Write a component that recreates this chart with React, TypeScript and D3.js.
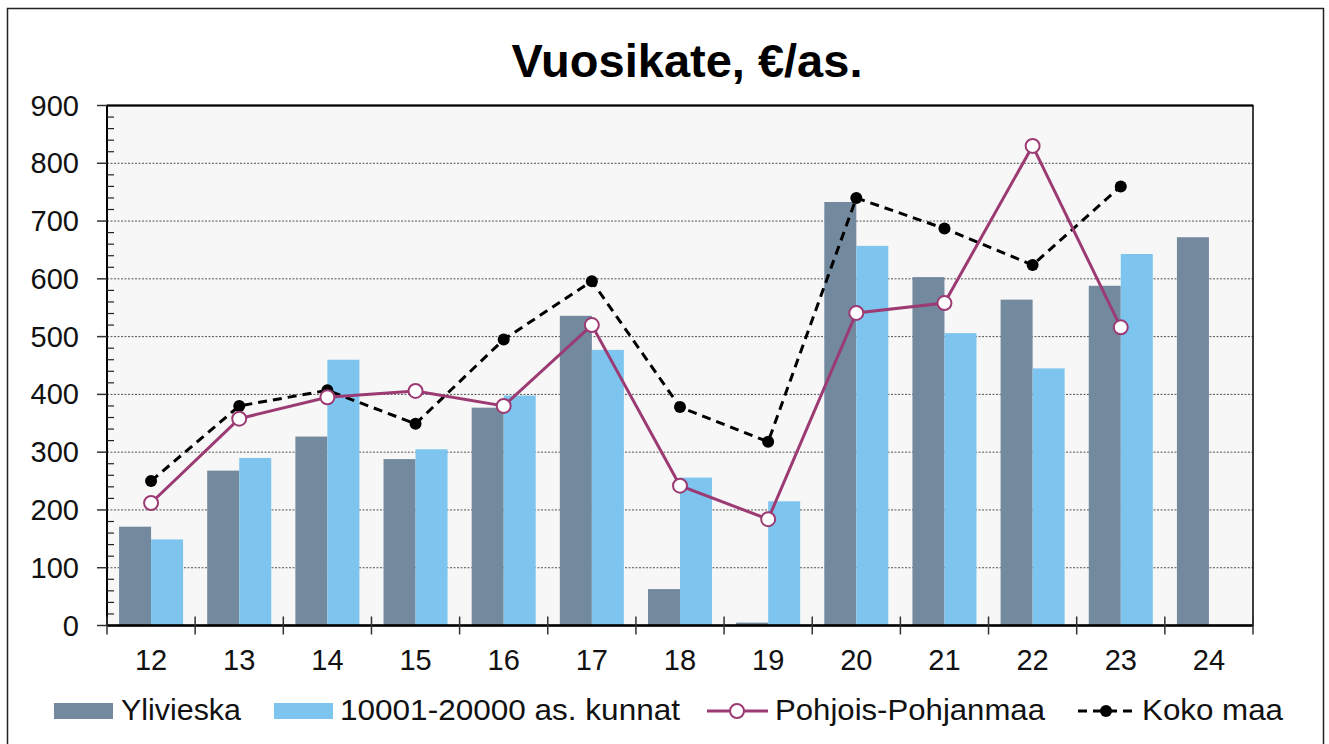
import React from 'react';
import * as d3 from 'd3';

// Chart data
const years = ['12', '13', '14', '15', '16', '17', '18', '19', '20', '21', '22', '23', '24'];
const ylivieska = [171, 268, 327, 288, 377, 536, 63, 5, 733, 603, 564, 588, 672];
const kunnat: (number | null)[] = [149, 290, 460, 305, 398, 477, 256, 215, 657, 506, 445, 643, null];
const pohjois: (number | null)[] = [212, 358, 395, 406, 380, 520, 242, 184, 541, 558, 830, 516, null];
const kokoMaa: (number | null)[] = [250, 380, 407, 349, 495, 596, 378, 318, 740, 687, 624, 760, null];
const yTicks = [0, 100, 200, 300, 400, 500, 600, 700, 800, 900];

const W = 1329;
const H = 744;
const FONT = 'Liberation Sans, Arial, sans-serif';
const DARK = '#72899e';
const LIGHT = '#7dc5ee';
const PURPLE = '#9c3b73';

export default function App() {
  const left = 107, right = 1253, top = 105.5, bottom = 625.5;

  const x = d3.scaleBand<string>().domain(years).range([left, right]).padding(0);
  const inner = d3.scaleBand<string>().domain(['a', 'b']).range([0, x.bandwidth()])
    .paddingInner(0).paddingOuter(0.377);
  const y = d3.scaleLinear().domain([0, 900]).range([bottom, top]);
  const minor = d3.range(0, 900, 20).filter(v => v % 100 !== 0);

  const cx = (i: number) => (x(years[i]) as number) + x.bandwidth() / 2;
  const line = d3.line<number | null>()
    .defined(d => d != null)
    .x((d, i) => cx(i))
    .y(d => y(d as number));

  return (
    <svg width={W} height={H} style={{ position: 'absolute', left: 0, top: 0, display: 'block' }}
      fontFamily={FONT}>
      <rect x={0} y={0} width={W} height={H} fill="#fff" />
      <rect x={7.5} y={8.5} width={1316} height={760} fill="none" stroke="#222" strokeWidth={1.5} />

      <text x={687} y={77} textAnchor="middle" fontSize={47} fontWeight="bold" fill="#000">
        Vuosikate, €/as.
      </text>

      {/* plot area */}
      <rect x={left} y={top} width={right - left} height={bottom - top} fill="#f7f7f7" />
      {yTicks.filter(v => v > 0 && v < 900).map(v => (
        <line key={'g' + v} x1={left} x2={right} y1={y(v)} y2={y(v)}
          stroke="#555" strokeWidth={1} strokeDasharray="2,1.5" />
      ))}

      {/* bars */}
      {years.map((yr, i) => (
        <g key={'b' + yr} transform={`translate(${x(yr)},0)`}>
          <rect x={inner('a')} width={inner.bandwidth()} y={y(ylivieska[i])}
            height={bottom - y(ylivieska[i])} fill={DARK} />
          {kunnat[i] != null && (
            <rect x={inner('b')} width={inner.bandwidth()} y={y(kunnat[i] as number)}
              height={bottom - y(kunnat[i] as number)} fill={LIGHT} />
          )}
        </g>
      ))}

      {/* frame */}
      <rect x={left} y={top} width={right - left} height={bottom - top} fill="none" stroke="#000" strokeWidth={1.5} />
      <line x1={left} x2={right} y1={bottom} y2={bottom} stroke="#000" strokeWidth={2.5} />
      <line x1={left} x2={left} y1={top} y2={bottom} stroke="#000" strokeWidth={2} />
      <line x1={left} x2={right} y1={top} y2={top} stroke="#000" strokeWidth={2} />

      {/* y ticks */}
      {yTicks.map(v => (
        <g key={'t' + v}>
          <line x1={left - 10} x2={left} y1={y(v)} y2={y(v)} stroke="#333" strokeWidth={1.5} />
          <text x={79} y={y(v)} textAnchor="end" dominantBaseline="central" fontSize={29} fill="#111">{v}</text>
        </g>
      ))}
      {minor.map(v => (
        <line key={'m' + v} x1={left} x2={left + 7} y1={y(v)} y2={y(v)} stroke="#222" strokeWidth={1.2} />
      ))}

      {/* x ticks */}
      {years.map((yr, i) => (
        <g key={'x' + yr}>
          <line x1={x(yr) as number} x2={x(yr) as number} y1={bottom - 9} y2={bottom + 9} stroke="#333" strokeWidth={1.5} />
          <text x={cx(i)} y={670} textAnchor="middle" fontSize={29} fill="#111">{yr}</text>
        </g>
      ))}
      <line x1={right} x2={right} y1={bottom - 9} y2={bottom + 9} stroke="#333" strokeWidth={1.5} />

      {/* lines */}
      <path d={line(kokoMaa) || ''} fill="none" stroke="#000" strokeWidth={3} strokeDasharray="9,6" />
      {kokoMaa.map((v, i) => v != null && (
        <circle key={'k' + i} cx={cx(i)} cy={y(v)} r={6} fill="#000" />
      ))}
      <path d={line(pohjois) || ''} fill="none" stroke={PURPLE} strokeWidth={3} />
      {pohjois.map((v, i) => v != null && (
        <circle key={'p' + i} cx={cx(i)} cy={y(v)} r={7} fill="#fff" stroke={PURPLE} strokeWidth={2} />
      ))}

      {/* legend */}
      <g fontSize={29} fill="#111">
        <rect x={54} y={703} width={59} height={16} fill={DARK} />
        <text x={121} y={720} textLength={120} lengthAdjust="spacingAndGlyphs">Ylivieska</text>
        <rect x={274} y={703} width={59} height={16} fill={LIGHT} />
        <text x={340} y={720} textLength={340} lengthAdjust="spacingAndGlyphs">10001-20000 as. kunnat</text>
        <line x1={707} x2={768} y1={711} y2={711} stroke={PURPLE} strokeWidth={3} />
        <circle cx={737} cy={711} r={7} fill="#fff" stroke={PURPLE} strokeWidth={2} />
        <text x={775} y={720} textLength={270} lengthAdjust="spacingAndGlyphs">Pohjois-Pohjanmaa</text>
        <line x1={1078} x2={1136} y1={711} y2={711} stroke="#000" strokeWidth={3} strokeDasharray="9,6" />
        <circle cx={1106} cy={711} r={6} fill="#000" />
        <text x={1142} y={720} textLength={141} lengthAdjust="spacingAndGlyphs">Koko maa</text>
      </g>
    </svg>
  );
}
